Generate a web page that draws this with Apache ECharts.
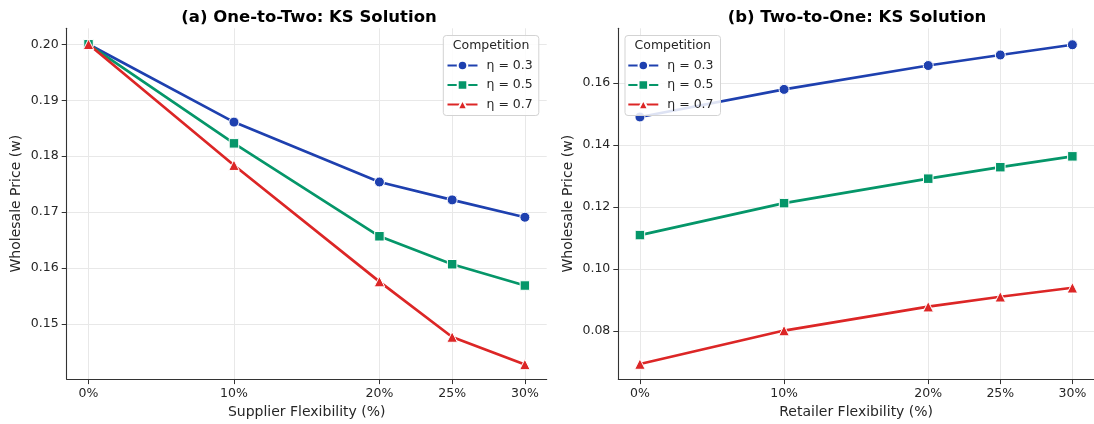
<!DOCTYPE html>
<html>
<head>
<meta charset="utf-8">
<script src="https://cdn.jsdelivr.net/npm/echarts@6/dist/echarts.min.js"></script>
<style>
html,body{margin:0;padding:0;background:#fff;}
#chart{width:1094px;height:424px;}
</style>
</head>
<body>
<div id="chart"></div>
<script>
// ---- data ----
const xVals = [0, 10, 20, 25, 30];
const xTickLabels = ['0%', '10%', '20%', '25%', '30%'];
const seriesNames = ['η = 0.3', 'η = 0.5', 'η = 0.7'];

// (a) One-to-Two
const a03 = [0.2000, 0.1861, 0.1754, 0.1722, 0.1691];
const a05 = [0.2000, 0.1823, 0.1657, 0.1607, 0.1569];
const a07 = [0.2000, 0.1784, 0.1576, 0.1477, 0.1428];
// (b) Two-to-One
const b03 = [0.1491, 0.1580, 0.1657, 0.1691, 0.1724];
const b05 = [0.1110, 0.1213, 0.1292, 0.1329, 0.1364];
const b07 = [0.0694, 0.0802, 0.0879, 0.0911, 0.0940];

const yTicksA = [0.15, 0.16, 0.17, 0.18, 0.19, 0.20];
const yTicksB = [0.08, 0.10, 0.12, 0.14, 0.16];

const titleA = '(a) One-to-Two: KS Solution';
const titleB = '(b) Two-to-One: KS Solution';
const xNameA = 'Supplier Flexibility (%)';
const xNameB = 'Retailer Flexibility (%)';
const yName = 'Wholesale Price (w)';
const legendTitle = 'Competition';

// ---- styles ----
const FONT = 'DejaVu Sans';
const colors = ['#1e40af', '#059669', '#dc2626'];
const symbols = ['circle', 'rect', 'triangle'];
const symSizes = [10, 9.5, 10.5];
const spine = '#333333';
const textCol = '#262626';
const gridCol = '#e8e8e8';

function xAxisCfg(gi, name) {
  return {
    type: 'value', gridIndex: gi, min: -1.5, max: 31.5,
    name: name, nameLocation: 'middle', nameGap: 25,
    nameTextStyle: {fontFamily: FONT, fontSize: 14, color: textCol},
    axisLine: {show: true, onZero: false, lineStyle: {color: spine, width: 1.1}},
    axisTick: {show: true, length: 5, customValues: xVals, lineStyle: {color: spine, width: 1}},
    axisLabel: {customValues: xVals, margin: 8, fontFamily: FONT, fontSize: 12.5, color: textCol,
      formatter: v => xTickLabels[xVals.indexOf(v)] || ''},
    splitLine: {show: true, lineStyle: {color: gridCol, width: 1}}
  };
}
function yAxisCfg(gi, min, max, ticks) {
  return {
    type: 'value', gridIndex: gi, min: min, max: max,
    name: yName, nameLocation: 'middle', nameGap: 43,
    nameTextStyle: {fontFamily: FONT, fontSize: 14, color: textCol},
    axisLine: {show: true, onZero: false, lineStyle: {color: spine, width: 1.1}},
    axisTick: {show: true, length: 5, customValues: ticks, lineStyle: {color: spine, width: 1}},
    axisLabel: {customValues: ticks, margin: 8, fontFamily: FONT, fontSize: 12.5, color: textCol,
      formatter: v => v.toFixed(2)},
    splitLine: {show: true, lineStyle: {color: gridCol, width: 1}}
  };
}
function mkSeries(gi, arrs) {
  return arrs.map((arr, k) => ({
    type: 'line', name: seriesNames[k], xAxisIndex: gi, yAxisIndex: gi,
    data: xVals.map((x, i) => [x, arr[i]]),
    symbol: symbols[k], symbolSize: symSizes[k],
    lineStyle: {color: colors[k], width: 2.7},
    itemStyle: {color: colors[k], borderColor: '#ffffff', borderWidth: 1},
    emphasis: {disabled: true},
    z: 3 + k
  }));
}
function legendCfg(left) {
  return {
    orient: 'vertical', left: left, top: 58.5, padding: 0,
    itemWidth: 30, itemHeight: 12, itemGap: 5.5,
    data: seriesNames, selectedMode: false,
    textStyle: {fontFamily: FONT, fontSize: 12.5, color: textCol, lineHeight: 14, padding: [0, 0, 0, 4]},
    z: 20
  };
}
function legendBox(x) {
  return [
    {type: 'rect', z: 15, shape: {x: x, y: 35.5, width: 95.5, height: 80, r: 3},
     style: {fill: 'rgba(255,255,255,0.85)', stroke: '#d3d3d3', lineWidth: 1}},
    {type: 'text', z: 16, x: x + 47.75, y: 46,
     style: {text: legendTitle, fontFamily: FONT, fontSize: 12.5, fill: textCol, align: 'center', verticalAlign: 'middle'}}
  ];
}

const chart = echarts.init(document.getElementById('chart'), null, {renderer: 'canvas'});
chart.setOption({
  backgroundColor: '#ffffff',
  animation: false,
  grid: [
    {left: 66.7, top: 28.3, width: 480, height: 351},
    {left: 618.3, top: 28.3, width: 480.5, height: 351}
  ],
  xAxis: [xAxisCfg(0, xNameA), xAxisCfg(1, xNameB)],
  yAxis: [yAxisCfg(0, 0.14018, 0.20286, yTicksA), yAxisCfg(1, 0.06454, 0.17771, yTicksB)],
  legend: [legendCfg(446.5), legendCfg(627.3)],
  series: [].concat(mkSeries(0, [a03, a05, a07]), mkSeries(1, [b03, b05, b07])),
  graphic: [
    {type: 'text', x: 309, y: 17.5, style: {text: titleA, fontFamily: FONT, fontSize: 16.5, fontWeight: 'bold', fill: '#000', align: 'center', verticalAlign: 'middle'}},
    {type: 'text', x: 857, y: 17.5, style: {text: titleB, fontFamily: FONT, fontSize: 16.5, fontWeight: 'bold', fill: '#000', align: 'center', verticalAlign: 'middle'}}
  ].concat(legendBox(443.3), legendBox(625))
});
</script>
</body>
</html>
